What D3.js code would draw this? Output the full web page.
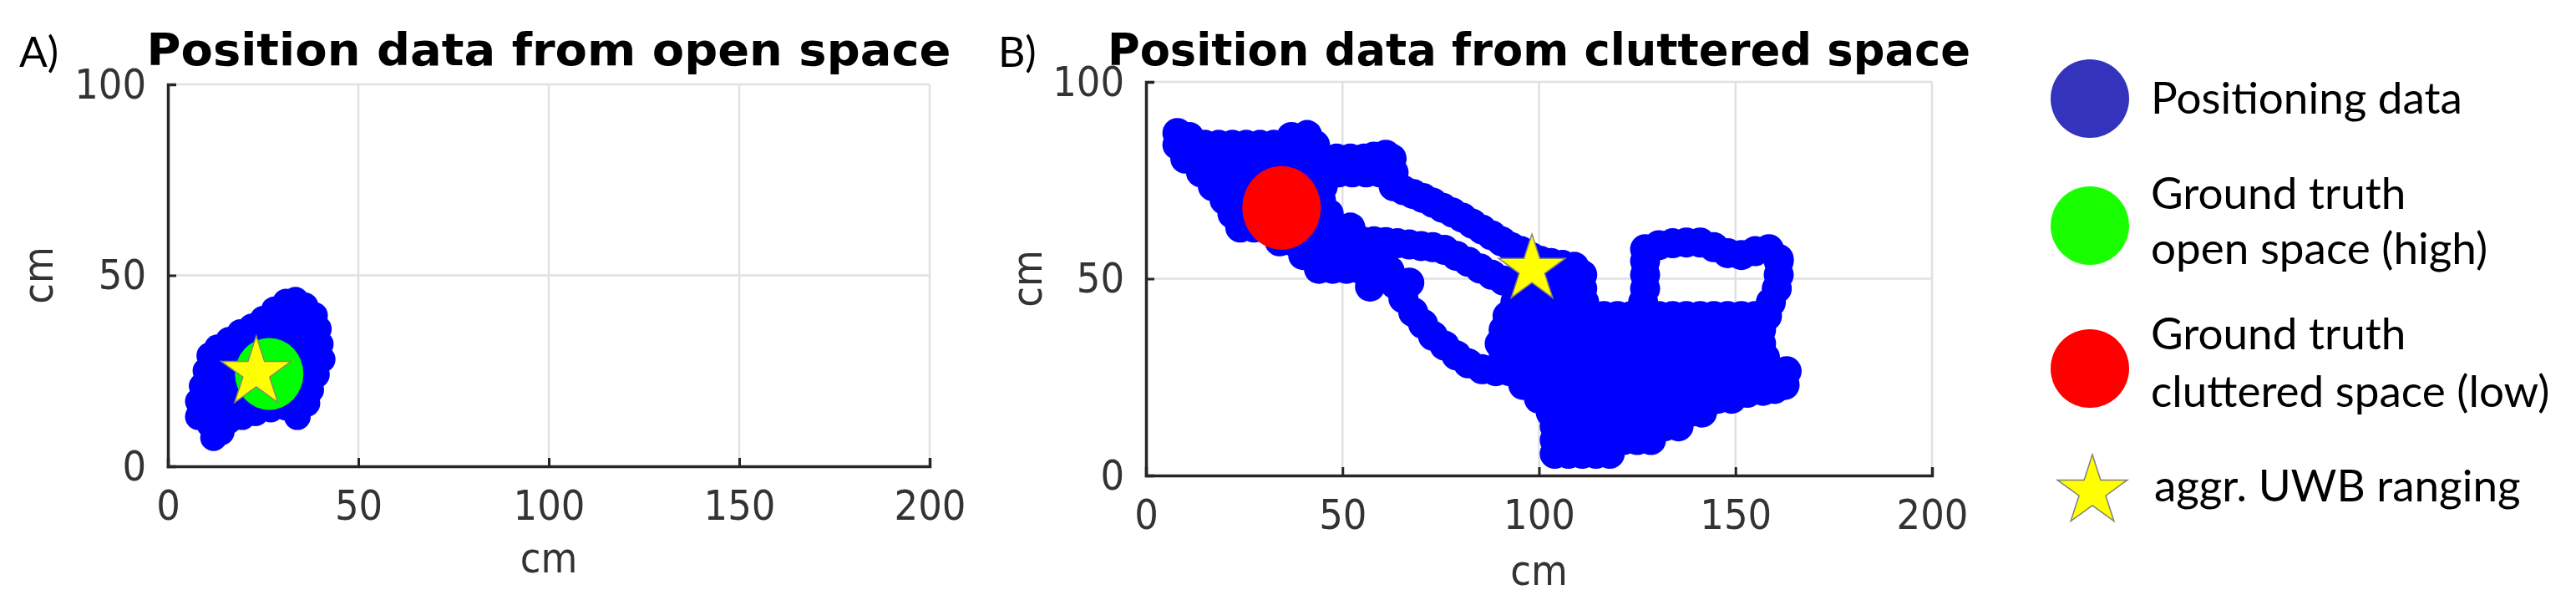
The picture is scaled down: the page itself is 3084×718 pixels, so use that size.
<!DOCTYPE html>
<html>
<head>
<meta charset="utf-8">
<script src="https://cdn.jsdelivr.net/npm/d3@7"></script>
<style>
  body { margin: 0; background: #fff; }
</style>
</head>
<body>
<svg id="chart"></svg>
<script>
// ---- data (cm) ----
var xTicks = [0, 50, 100, 150, 200];
var yTicks = [0, 50, 100];
var panelTags = ["A)", "B)"];
var panelTitles = ["Position data from open space", "Position data from cluttered space"];

// positioning samples, open space
var openPts = [
  [12,7.5],[14,9],[11,11],[8,13],[8,17],[9,21],[10,25],[11,29],[13,31],[16,33],
  [19,35],[22,36.5],[25,38.5],[28,41],[31,43],[33.5,43.5],[36,42],[38.5,39.5],[39.5,36],[40,32],
  [40.5,28],[39,24],[37.5,20],[36.5,16.5],[34,13],[31,15.5],[27,15],[23,14],[19.5,13],[16,12],
  [12,15],[16,16],[20,17],[24,18],[28,19],[32,19],[35,21],
  [12,19],[16,20],[20,21],[24,22],[28,23],[32,23],[36,25],
  [13,23],[17,24],[21,25],[25,26],[29,27],[33,27],[37,29],
  [14,27],[18,28],[22,29],[26,30],[30,31],[34,31],[37,33],
  [17,31],[21,32],[25,33],[29,34],[33,35],[36,37],
  [25,36],[29,37],[32,39],[35,40]
];

// positioning samples, cluttered space
var clutterPts = [
  // upper-left cluster
  [8,87],[11,86],[37,86],[41,86.5],
  [8,84],[11.5,84],[15,84],[18.5,84],[22,84],[25.5,84],[29,84],[32.5,84],[36,84],[39.5,84],[43,84],
  [58,81],[61,81.5],
  [10,80.5],[13.5,80.5],[17,80.5],[20.5,80.5],[24,80.5],[27.5,80.5],[31,80.5],[34.5,80.5],
  [38,80.5],[41.5,80.5],[45,80.5],[48.5,80.5],[52,80.5],[55.5,80.5],[59,80.5],[62.5,80.5],
  [14,77],[17.5,77],[21,77],[24.5,77],[28,77],[31.5,77],[35,77],[38.5,77],[42,77],[45.5,77],
  [49,77],[52.5,77],[56,77],[59.5,77],[63,77],
  [17,73.5],[20.5,73.5],[24,73.5],[27.5,73.5],[31,73.5],[34.5,73.5],[38,73.5],[41.5,73.5],[45,73.5],
  [20,70],[23.5,70],[27,70],[30.5,70],[34,70],[37.5,70],[41,70],[44.5,70],
  [22,66.5],[25.5,66.5],[29,66.5],[32.5,66.5],[36,66.5],[39.5,66.5],[43,66.5],[46.5,66.5],
  [24,63],[27.5,63],[31,63],[34.5,63],[38,63],[41.5,63],[45,63],[48.5,63],[52,63],
  [34,59.5],[37.5,59.5],[41,59.5],[44.5,59.5],[48,59.5],[51.5,59.5],[55,59.5],
  [40,56],[43.5,56],[47,56],[50.5,56],[54,56],[57.5,56],
  [44,52.5],[47.5,52.5],[51,52.5],[54.5,52.5],[58,52.5],[57,48],
  // upper band
  [63,73.5],[65.5,72.5],[68,71.5],[70.5,70.5],[73,69.3],[75.5,68],[78,66.8],[80.5,65.5],[83,64],
  [85.5,62.5],[88,61],[90.5,59.5],[93,58],[95.5,57],[98,55.5],[100.5,54.5],[103,54],[106,53.5],[109,53],
  // lower band
  [58,59.5],[61,59.3],[64,59],[67,58.7],[70,58.3],[73,58],[76,57.3],[79,55.8],[82,54.3],
  [85,52.6],[88,51],[91,49.5],[94,48.2],[97,47],
  // band going down
  [62,52],[63.5,48.5],[67,49],[65.5,45],[68,41.5],[70.5,38.5],[73,35.5],[76,33],[79,30.5],
  [82,28.5],[85.5,27],[89,26.5],[92.5,26.5],
  // main mass
  [104,5.5],[107.5,5.5],[111,5.5],[114.5,5.5],[118,5.5],
  [104,9],[107.5,9],[111,9],[114.5,9],[118,9],[121.5,9],[125,9],[128.5,9],
  [104,12.5],[107.5,12.5],[111,12.5],[114.5,12.5],[118,12.5],[121.5,12.5],[125,12.5],[128.5,12.5],
  [132,12.5],[135.5,12.5],
  [103,16],[106.5,16],[110,16],[113.5,16],[117,16],[120.5,16],[124,16],[127.5,16],[131,16],
  [134.5,16],[138,16],[141.5,16],
  [100,19.5],[103.5,19.5],[107,19.5],[110.5,19.5],[114,19.5],[117.5,19.5],[121,19.5],[124.5,19.5],
  [128,19.5],[131.5,19.5],[135,19.5],[138.5,19.5],[142,19.5],[145.5,19.5],[149,19.5],
  [153,21],[157,21.5],[160,22],
  [96,23],[99.5,23],[103,23],[106.5,23],[110,23],[113.5,23],[117,23],[120.5,23],[124,23],[127.5,23],
  [131,23],[134.5,23],[138,23],[141.5,23],[145,23],[148.5,23],[152,23],[155.5,23],[159,23],[162.5,23],
  [93,26.5],[96.5,26.5],[100,26.5],[103.5,26.5],[107,26.5],[110.5,26.5],[114,26.5],[117.5,26.5],
  [121,26.5],[124.5,26.5],[128,26.5],[131.5,26.5],[135,26.5],[138.5,26.5],[142,26.5],[145.5,26.5],
  [149,26.5],[152.5,26.5],[156,26.5],[159.5,26.5],[163,26.5],
  [91,30],[94.5,30],[98,30],[101.5,30],[105,30],[108.5,30],[112,30],[115.5,30],[119,30],[122.5,30],
  [126,30],[129.5,30],[133,30],[136.5,30],[140,30],[143.5,30],[147,30],[150.5,30],[154,30],[157.5,30],
  [90,33.5],[93.5,33.5],[97,33.5],[100.5,33.5],[104,33.5],[107.5,33.5],[111,33.5],[114.5,33.5],
  [118,33.5],[121.5,33.5],[125,33.5],[128.5,33.5],[132,33.5],[135.5,33.5],[139,33.5],[142.5,33.5],
  [146,33.5],[149.5,33.5],[153,33.5],[156.5,33.5],
  [91,37],[94.5,37],[98,37],[101.5,37],[105,37],[108.5,37],[112,37],[115.5,37],[119,37],[122.5,37],
  [126,37],[129.5,37],[133,37],[136.5,37],[140,37],[143.5,37],[147,37],[150.5,37],[154,37],[156.5,37],
  [92,40.5],[95.5,40.5],[99,40.5],[102.5,40.5],[106,40.5],[109.5,40.5],[113,40.5],[116.5,40.5],
  [120,40.5],[123.5,40.5],[127,40.5],[130.5,40.5],[134,40.5],[137.5,40.5],[141,40.5],[144.5,40.5],
  [148,40.5],[151.5,40.5],[155,40.5],[158,40.5],
  [94,44],[97.5,44],[101,44],[104.5,44],[108,44],[111.5,44],
  [97,47.5],[100.5,47.5],[104,47.5],[107.5,47.5],[111,47.5],[111,51],
  // right loop
  [126.5,44],[127,47.5],[127,51],[127,54.5],[159,44],[160.5,47.5],[161,51],[161,54.5],
  [127,57.5],[130.5,58.5],[134,59],[137.5,59.2],[141,59.2],[144.5,58],[148,56.5],[151.5,56],
  [155,57],[158.5,57.5],[161,55]
];

var openTruth = [26.6, 24.2];
var clutterTruth = [34.5, 68];
var openStar = [23.2, 24.5];
var clutterStar = [98.2, 52.4];

var legendLabels = [["Positioning data"], ["Ground truth", "open space (high)"],
                    ["Ground truth", "cluttered space (low)"], ["aggr. UWB ranging"]];
var legendColors = ["#3333bb", "#1aff00", "#ff0000", "#ffff00"];

// ---- layout ----
var W = 3084, H = 718;
var svg = d3.select("#chart").attr("width", W).attr("height", H);

var panels = [
  { left: 201, right: 1113, top: 101, bottom: 558, tagX: 23, ylabX: 45, xlabY: 685, titleW: 963,
    pts: openPts, markR: 16, truth: openTruth, truthColor: "#00ff00", rx: 41, ry: 43,
    star: openStar, starR: 44 },
  { left: 1372, right: 2313, top: 98, bottom: 569, tagX: 1195, ylabX: 1229, xlabY: 700, titleW: 1033,
    pts: clutterPts, markR: 18, truth: clutterTruth, truthColor: "#ff0000", rx: 47, ry: 50,
    star: clutterStar, starR: 42 }
];

var tickFont = "'DejaVu Sans Condensed', 'DejaVu Sans', sans-serif";
var axisColor = "#262626";

function starPath(R) {
  // d3 star symbol: outer radius = sqrt(size * 0.8908)
  return d3.symbol().type(d3.symbolStar).size(R * R / 0.8908130915292852)();
}

panels.forEach(function(p, i) {
  var x = d3.scaleLinear().domain([0, 200]).range([p.left, p.right]);
  var y = d3.scaleLinear().domain([0, 100]).range([p.bottom, p.top]);

  var g = svg.append("g");

  // grid
  g.selectAll(".vgrid").data(xTicks.slice(1)).enter().append("line")
    .attr("x1", d => x(d)).attr("x2", d => x(d))
    .attr("y1", p.top).attr("y2", p.bottom)
    .attr("stroke", "#e1e1e1").attr("stroke-width", 2.5);
  g.selectAll(".hgrid").data(yTicks.slice(1)).enter().append("line")
    .attr("x1", p.left).attr("x2", p.right)
    .attr("y1", d => y(d)).attr("y2", d => y(d))
    .attr("stroke", "#e1e1e1").attr("stroke-width", 2.5);

  // positioning data
  g.selectAll("circle.pos").data(p.pts).enter().append("circle")
    .attr("class", "pos")
    .attr("cx", d => x(d[0]))
    .attr("cy", d => y(d[1]))
    .attr("r", p.markR)
    .attr("fill", "#0000ff");

  // ground truth
  g.append("ellipse")
    .attr("cx", x(p.truth[0])).attr("cy", y(p.truth[1]))
    .attr("rx", p.rx).attr("ry", p.ry)
    .attr("fill", p.truthColor);

  // aggregated UWB ranging
  g.append("path")
    .attr("d", starPath(p.starR))
    .attr("transform", "translate(" + x(p.star[0]) + "," + y(p.star[1]) + ")")
    .attr("fill", "#ffff00").attr("stroke", "#8a8a6a").attr("stroke-width", 1.5);

  // axes
  var xAxis = d3.axisBottom(x).tickValues(xTicks).tickSizeInner(-10).tickSizeOuter(-10).tickPadding(28);
  var yAxis = d3.axisLeft(y).tickValues(yTicks).tickSizeInner(-10).tickSizeOuter(-10).tickPadding(26);

  var gx = g.append("g").attr("transform", "translate(0," + p.bottom + ")").call(xAxis);
  var gy = g.append("g").attr("transform", "translate(" + p.left + ",0)").call(yAxis);
  [gx, gy].forEach(function(a) {
    a.select(".domain").attr("stroke", axisColor).attr("stroke-width", 3.5).attr("fill", "none");
    a.selectAll(".tick line").attr("stroke", axisColor).attr("stroke-width", 3);
    a.selectAll(".tick text")
      .attr("fill", "#333")
      .style("font-family", tickFont)
      .style("font-stretch", "condensed")
      .style("font-size", "50px");
  });

  // axis titles
  g.append("text")
    .attr("x", (p.left + p.right) / 2).attr("y", p.xlabY)
    .attr("text-anchor", "middle")
    .attr("fill", "#333")
    .style("font-family", tickFont).style("font-stretch", "condensed").style("font-size", "50px")
    .text("cm");
  g.append("text")
    .attr("transform", "translate(" + p.ylabX + "," + ((p.top + p.bottom) / 2) + ") rotate(-90)")
    .attr("text-anchor", "middle")
    .attr("dy", "0.35em")
    .attr("fill", "#333")
    .style("font-family", tickFont).style("font-stretch", "condensed").style("font-size", "50px")
    .text("cm");

  // title
  g.append("text")
    .attr("x", (p.left + p.right) / 2).attr("y", 78)
    .attr("text-anchor", "middle")
    .attr("textLength", p.titleW)
    .attr("lengthAdjust", "spacingAndGlyphs")
    .attr("fill", "#000")
    .style("font-family", "'DejaVu Sans', sans-serif")
    .style("font-weight", "bold")
    .style("font-size", "54px")
    .text(panelTitles[i]);

  // panel tag
  g.append("text")
    .attr("x", p.tagX).attr("y", 80)
    .attr("fill", "#000")
    .style("font-family", "Lato, 'Open Sans', sans-serif")
    .style("font-size", "50px")
    .text(panelTags[i]);
});

// ---- legend ----
var legY = [118, 270, 441, 584];
var legTextY = [[136], [250, 316], [418, 487], [600]];
var leg = svg.append("g");
legendLabels.forEach(function(lines, i) {
  if (i < 3) {
    leg.append("circle")
      .attr("cx", 2502).attr("cy", legY[i]).attr("r", 47)
      .attr("fill", legendColors[i]);
  } else {
    leg.append("path")
      .attr("d", starPath(44))
      .attr("transform", "translate(2505," + (legY[i] + 4) + ")")
      .attr("fill", legendColors[i]).attr("stroke", "#7f7f7f").attr("stroke-width", 1.5);
  }
  var t = leg.append("text")
    .attr("fill", "#000")
    .style("font-family", "Lato, 'Open Sans', sans-serif")
    .style("font-size", "53px");
  lines.forEach(function(s, j) {
    t.append("tspan").attr("x", i === 3 ? 2579 : 2575).attr("y", legTextY[i][j]).text(s);
  });
});
</script>
</body>
</html>
